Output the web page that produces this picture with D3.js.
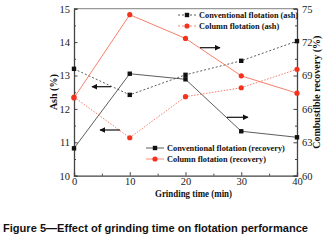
<!DOCTYPE html>
<html><head><meta charset="utf-8">
<script src="https://cdn.jsdelivr.net/npm/d3@7"></script>
<style>body{margin:0;background:#fff}svg{display:block}</style>
</head><body>
<svg id="c" width="327" height="240"></svg>
<script>
const times = [0, 10, 20, 30, 40];
const convAsh = [13.2, 12.42, 13.02, 13.44, 14.03];
const colAsh = [12.33, 14.82, 14.11, 12.99, 12.47];
const convRec = [62.46, 69.16, 68.66, 63.99, 63.45];
const colRec = [67.07, 63.41, 67.1, 67.9, 69.56];
const xTicks = [0, 10, 20, 30, 40];
const leftTicks = [10, 11, 12, 13, 14, 15];
const rightTicks = [60, 63, 66, 69, 72, 75];

const svg = d3.select("#c");
const L = 74, R = 297, T = 8.7, B = 175.7;
const x = d3.scaleLinear().domain([0, 40]).range([L, R]);
const yL = d3.scaleLinear().domain([10, 15]).range([B, T]);
const yR = d3.scaleLinear().domain([60, 75]).range([B, T]);
const serif = "'Liberation Serif','Times New Roman',serif";
const axCol = "#444";

svg.append("line").attr("x1", L).attr("x2", R).attr("y1", T).attr("y2", T).attr("stroke", "#999").attr("stroke-width", 1.2);

function styleAxis(g) {
  g.selectAll("path.domain").attr("stroke", axCol).attr("stroke-width", 1.3);
  g.selectAll(".tick line").attr("stroke", axCol);
  g.selectAll(".tick text").attr("font-family", serif).attr("font-size", 10.5).attr("fill", "#222");
}
function minor(axisGen, vals) { return axisGen.tickValues(vals).tickSize(-2).tickFormat(""); }

const gx = svg.append("g").attr("transform", `translate(0,${B})`);
gx.call(minor(d3.axisBottom(x), [5, 15, 25, 35]));
gx.select("path.domain").remove();
const gx2 = svg.append("g").attr("transform", `translate(0,${B})`)
  .call(d3.axisBottom(x).tickValues(xTicks).tickSize(-3.5).tickPadding(1.5).tickFormat(d3.format("d")));
styleAxis(gx2); styleAxis(gx);

const gl = svg.append("g").attr("transform", `translate(${L},0)`);
gl.call(minor(d3.axisLeft(yL), [10.5, 11.5, 12.5, 13.5, 14.5]));
gl.select("path.domain").remove();
const gl2 = svg.append("g").attr("transform", `translate(${L},0)`)
  .call(d3.axisLeft(yL).tickValues(leftTicks).tickSize(-3.5).tickPadding(4).tickFormat(d3.format("d")));
styleAxis(gl2); styleAxis(gl);

const gr = svg.append("g").attr("transform", `translate(${R},0)`);
gr.call(minor(d3.axisRight(yR), [61.5, 64.5, 67.5, 70.5, 73.5]));
gr.select("path.domain").remove();
const gr2 = svg.append("g").attr("transform", `translate(${R},0)`)
  .call(d3.axisRight(yR).tickValues(rightTicks).tickSize(-3.5).tickPadding(5).tickFormat(d3.format("d")));
styleAxis(gr2); styleAxis(gr);

const series = [
  {vals: convAsh, y: yL, color: "#333", dash: "2,2", shape: "sq", w: 0.8},
  {vals: colAsh, y: yL, color: "#f4715a", dash: null, shape: "ci", w: 0.9},
  {vals: convRec, y: yR, color: "#333", dash: null, shape: "sq", w: 0.8},
  {vals: colRec, y: yR, color: "#f4715a", dash: "1.5,1.5", shape: "ci", w: 0.9}
];
const line = (ys) => d3.line().x((d, i) => x(times[i])).y(d => ys(d));
series.forEach(s => {
  svg.append("path").datum(s.vals).attr("d", line(s.y)).attr("fill", "none")
    .attr("stroke", s.color).attr("stroke-width", s.w).attr("stroke-dasharray", s.dash);
  const g = svg.append("g");
  s.vals.forEach((v, i) => {
    if (s.shape === "sq") g.append("rect").attr("x", x(times[i]) - 2.2).attr("y", s.y(v) - 2.2).attr("width", 4.4).attr("height", 4.4).attr("fill", "#111");
    else g.append("circle").attr("cx", x(times[i])).attr("cy", s.y(v)).attr("r", 2.6).attr("fill", "#f4321e");
  });
});

svg.append("defs").append("marker").attr("id", "ah").attr("viewBox", "0 0 10 10").attr("refX", 9).attr("refY", 5)
  .attr("markerWidth", 6).attr("markerHeight", 6).attr("markerUnits", "userSpaceOnUse").attr("orient", "auto")
  .append("path").attr("d", "M0,0L10,5L0,10z").attr("fill", "#111");
const arrows = [[111, 86.7, 92, 86.7], [120, 130, 100, 130], [200, 47.7, 220, 47.7], [227, 117.3, 248, 117.3]];
arrows.forEach(a => svg.append("line").attr("x1", a[0]).attr("y1", a[1]).attr("x2", a[2]).attr("y2", a[3])
  .attr("stroke", "#111").attr("stroke-width", 1.2).attr("marker-end", "url(#ah)"));

function legend(x0, y0, items) {
  items.forEach((it, i) => {
    const yy = y0 + i * 11;
    svg.append("line").attr("x1", x0).attr("x2", x0 + 18).attr("y1", yy).attr("y2", yy)
      .attr("stroke", it.color).attr("stroke-width", 0.8).attr("stroke-dasharray", it.dash);
    if (it.shape === "sq") svg.append("rect").attr("x", x0 + 9 - 2.2).attr("y", yy - 2.2).attr("width", 4.4).attr("height", 4.4).attr("fill", "#111");
    else svg.append("circle").attr("cx", x0 + 9).attr("cy", yy).attr("r", 2.6).attr("fill", "#f4321e");
    svg.append("text").attr("x", x0 + 21).attr("y", yy + 3).attr("font-family", serif).attr("font-weight", "bold")
      .attr("font-size", 8.3).attr("fill", "#111").text(it.label);
  });
}
legend(178, 15, [
  {label: "Conventional flotation (ash)", color: "#333", dash: "2,2", shape: "sq"},
  {label: "Column flotation (ash)", color: "#f4715a", dash: "2,2", shape: "ci"}
]);
legend(146, 148, [
  {label: "Conventional flotation (recovery)", color: "#333", dash: null, shape: "sq"},
  {label: "Column flotation (recovery)", color: "#f4715a", dash: null, shape: "ci"}
]);

svg.append("text").attr("transform", `translate(57,${(T + B) / 2}) rotate(-90)`).attr("text-anchor", "middle")
  .attr("font-family", serif).attr("font-weight", "bold").attr("font-size", 10).attr("fill", "#111").text("Ash (%)");
svg.append("text").attr("transform", `translate(320,${(T + B) / 2}) rotate(-90)`).attr("text-anchor", "middle")
  .attr("font-family", serif).attr("font-weight", "bold").attr("font-size", 10).attr("fill", "#111").text("Combustible recovery (%)");
svg.append("text").attr("x", 155).attr("y", 196.5)
  .attr("font-family", serif).attr("font-weight", "bold").attr("font-size", 10).attr("fill", "#111")
  .attr("textLength", 77).attr("lengthAdjust", "spacingAndGlyphs").text("Grinding time (min)");

svg.append("text").attr("x", 3).attr("y", 231.5).attr("font-family", "'Liberation Sans',Arial,sans-serif")
  .attr("font-weight", "bold").attr("font-size", 10.3).attr("fill", "#111")
  .attr("textLength", 305).attr("lengthAdjust", "spacingAndGlyphs")
  .text("Figure 5—Effect of grinding time on flotation performance");
</script>
</body></html>
